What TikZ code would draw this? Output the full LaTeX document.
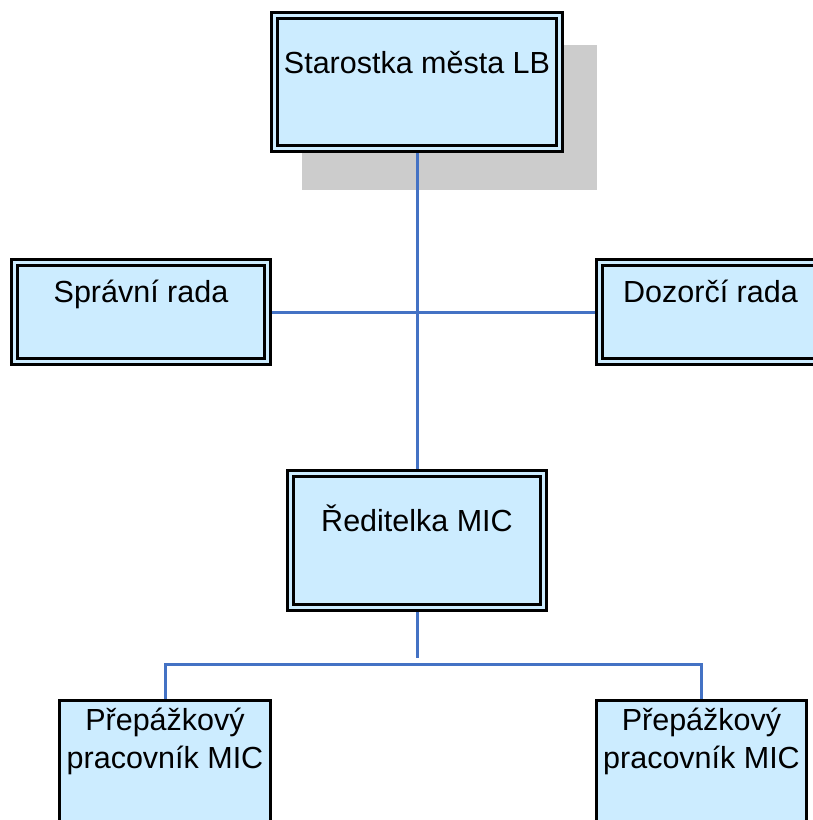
\documentclass[tikz,border=0pt]{standalone}
\usepackage{fontspec}
\setmainfont{Liberation Sans}
\usetikzlibrary{backgrounds}

\definecolor{boxblue}{RGB}{204,236,255}
\definecolor{linkblue}{RGB}{68,114,196}
\definecolor{shadowgray}{RGB}{204,204,204}

\tikzset{
	orgbox/.style={draw=black, fill=boxblue, line width=3pt, double=boxblue, double distance=3pt,
		inner sep=0pt, outer sep=4.5pt, anchor=north, align=center, font=\fontsize{30.5}{38}\selectfont},
	staffbox/.style={draw=black, fill=boxblue, line width=3pt,
		inner sep=0pt, outer sep=1.5pt, anchor=north, align=center, font=\fontsize{30.5}{38}\selectfont},
	link/.style={linkblue, line width=3pt}
}

\begin{document}
\begin{tikzpicture}[x=1pt, y=-1pt]
		\path[use as bounding box, clip] (0,0) rectangle (813,820);
		% boxes
		\node[orgbox, minimum width=285pt, text height=58pt, text depth=75pt] (mayor) at (417,11) {Starostka města LB};
		\node[orgbox, minimum width=253pt, text height=40pt, text depth=59pt] (board) at (141,258) {Správní rada};
		\node[orgbox, minimum width=222pt, text height=40pt, text depth=59pt] (supervisory) at (710.5,258) {Dozorčí rada};
		\node[orgbox, minimum width=253pt, text height=57.5pt, text depth=76.5pt] (director) at (417,469) {Ředitelka MIC};
		\node[staffbox, minimum width=211pt, text height=68pt, text depth=110pt] (clerkL) at (165,699) {Přepážkový\\pracovník MIC};
		\node[staffbox, minimum width=210pt, text height=68pt, text depth=110pt] (clerkR) at (701.5,699) {Přepážkový\\pracovník MIC};
		\coordinate (fork) at (417,658);
		% lines
		\draw[link] (mayor.south) -- (director.north);
		\draw[link] (board.east) -- (supervisory.west);
		\draw[link] (director.south) -- (fork);
		\draw[link] (clerkL.north) -- ++(0,-35) -| (clerkR.north);
		% shadow behind the top box
		\begin{pgfonlayer}{background}
			\fill[shadowgray] ([shift={(32,34)}]mayor.north west) rectangle ([shift={(33,37)}]mayor.south east);
		\end{pgfonlayer}
\end{tikzpicture}
\end{document}
